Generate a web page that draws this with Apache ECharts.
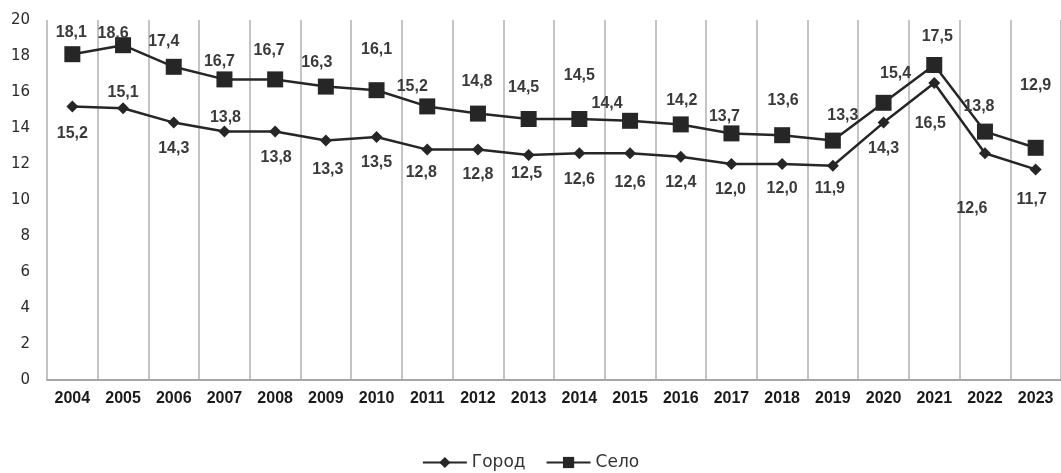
<!DOCTYPE html>
<html>
<head>
<meta charset="utf-8">
<script src="https://cdn.jsdelivr.net/npm/echarts@6/dist/echarts.min.js"></script>
<style>
  html, body { margin: 0; padding: 0; background: #fff; }
  #chart { width: 1061px; height: 473px; }
</style>
</head>
<body>
<div id="chart"></div>
<script>
// Years on the category axis
const years = ['2004','2005','2006','2007','2008','2009','2010','2011','2012','2013',
               '2014','2015','2016','2017','2018','2019','2020','2021','2022','2023'];

// Series values
const gorod = [15.2, 15.1, 14.3, 13.8, 13.8, 13.3, 13.5, 12.8, 12.8, 12.5,
               12.6, 12.6, 12.4, 12.0, 12.0, 11.9, 14.3, 16.5, 12.6, 11.7];
const selo  = [18.1, 18.6, 17.4, 16.7, 16.7, 16.3, 16.1, 15.2, 14.8, 14.5,
               14.5, 14.4, 14.2, 13.7, 13.6, 13.3, 15.4, 17.5, 13.8, 12.9];

// Value-axis ticks
const yTicks = { min: 0, max: 20, interval: 2 };

// Label placement (offset of each label centre from its point, px)
const gorodLabelOffsets = [[0,27],[0,-16],[0,26],[1,-14],[1,26],[2,29],[0,26],[-6,23],[0,25],[-2,19],
                           [0,26],[0,29],[0,26],[-1,26],[0,25],[-3,23],[0,26],[-4,41],[-13,55],[-4,30]];
const seloLabelOffsets  = [[-1,-22],[-10,-12],[-10,-25],[-5,-18],[-6,-29],[-9,-24],[0,-41],[-15,-20],[-1,-32],[-5,-31],
                           [0,-43],[-23,-17],[1,-24],[-7,-17],[1,-35],[10,-25],[12,-29],[3,-28],[-6,-25],[0,-62]];

const fmt = v => v.toFixed(1).replace('.', ',');

const labelStyle = {
  show: true,
  position: 'inside',
  fontFamily: 'Liberation Sans, Arial, sans-serif',
  fontWeight: 'bold',
  fontSize: 16,
  color: '#3a3a3a'
};

function buildData(values, offsets) {
  return values.map((v, i) => ({
    value: v,
    label: Object.assign({}, labelStyle, { offset: offsets[i] })
  }));
}

const chart = echarts.init(document.getElementById('chart'), null, { renderer: 'canvas' });

chart.setOption({
  animation: false,
  backgroundColor: '#ffffff',
  grid: { left: 47, top: 20, right: -6, bottom: 93, containLabel: false },
  legend: {
    top: 449,
    left: 'center',
    itemWidth: 44,
    itemHeight: 14,
    itemGap: 20,
    textStyle: { fontFamily: 'DejaVu Sans, Verdana, sans-serif', fontSize: 17, color: '#333' },
    data: ['Город', 'Село']
  },
  xAxis: {
    type: 'category',
    data: years,
    boundaryGap: true,
    axisLine: { show: true, lineStyle: { color: '#a6a6a6', width: 2 } },
    axisTick: { show: false },
    axisLabel: {
      margin: 11,
      fontFamily: 'Liberation Sans, Arial, sans-serif',
      fontWeight: 'bold',
      fontSize: 16,
      color: '#1a1a1a',
      interval: 0
    },
    splitLine: { show: true, interval: 0, lineStyle: { color: '#c4c4c4', width: 2 } }
  },
  yAxis: {
    type: 'value',
    min: yTicks.min,
    max: yTicks.max,
    interval: yTicks.interval,
    axisLine: { show: false },
    axisTick: { show: false },
    splitLine: { show: false },
    axisLabel: {
      margin: 17,
      fontFamily: 'DejaVu Sans, Verdana, sans-serif',
      fontSize: 15,
      color: '#2a2a2a'
    }
  },
  series: [
    {
      name: 'Город',
      type: 'line',
      data: buildData(gorod, gorodLabelOffsets),
      symbol: 'diamond',
      symbolSize: [12, 12],
      showAllSymbol: true,
      lineStyle: { color: '#262626', width: 2.5 },
      itemStyle: { color: '#262626' },
      label: Object.assign({ formatter: p => fmt(p.value) }, labelStyle),
      z: 3
    },
    {
      name: 'Село',
      type: 'line',
      data: buildData(selo, seloLabelOffsets),
      symbol: 'rect',
      symbolSize: 16,
      showAllSymbol: true,
      lineStyle: { color: '#262626', width: 2.5 },
      itemStyle: { color: '#262626' },
      label: Object.assign({ formatter: p => fmt(p.value) }, labelStyle),
      z: 4
    }
  ]
});
</script>
</body>
</html>
